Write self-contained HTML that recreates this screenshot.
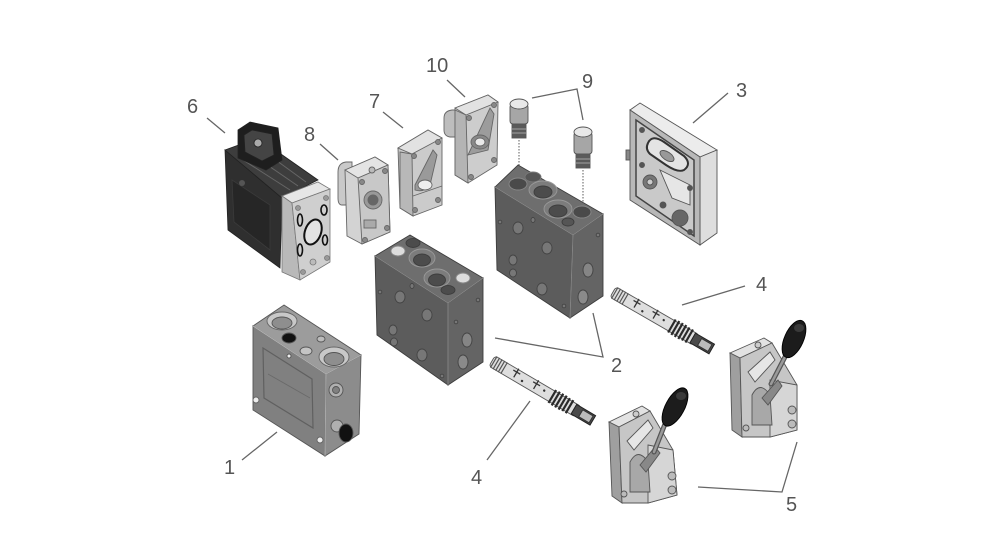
<!DOCTYPE html>
<html>
<head>
<meta charset="utf-8">
<style>
html,body{margin:0;padding:0;background:#fff;}
svg{display:block;}
text{font-family:"Liberation Sans",sans-serif;font-size:20px;fill:#555;}
</style>
</head>
<body>
<svg width="984" height="550" viewBox="0 0 984 550" xmlns="http://www.w3.org/2000/svg">
<rect width="984" height="550" fill="#fff"/>

<!-- ===== Leader lines ===== -->
<g stroke="#666" stroke-width="1.3" fill="none">
  <line x1="207" y1="118" x2="225" y2="133"/>
  <line x1="320" y1="144" x2="338" y2="160"/>
  <line x1="383" y1="112" x2="403" y2="128"/>
  <line x1="447" y1="80" x2="465" y2="97"/>
  <polyline points="532,98 577,89 583,120"/>
  <line x1="693" y1="123" x2="728" y2="93"/>
  <line x1="682" y1="305" x2="745" y2="286"/>
  <polyline points="495,338 603,357 593,313"/>
  <line x1="487" y1="460" x2="530" y2="401"/>
  <line x1="242" y1="460" x2="277" y2="432"/>
  <polyline points="698,487 782,492 797,442"/>
</g>

<!-- ===== Labels ===== -->
<text x="187" y="113">6</text>
<text x="304" y="141">8</text>
<text x="369" y="108">7</text>
<text x="426" y="72">10</text>
<text x="582" y="88">9</text>
<text x="736" y="97">3</text>
<text x="756" y="291">4</text>
<text x="611" y="372">2</text>
<text x="471" y="484">4</text>
<text x="224" y="474">1</text>
<text x="786" y="511">5</text>

<!-- ===== Part 6 solenoid ===== -->
<g stroke="#222" stroke-width="0.8">
  <polygon points="225,150 282,198 280,268 228,230" fill="#2f2f2f"/>
  <polygon points="225,150 258,138 318,180 282,198" fill="#3d3d3d"/>
  <g stroke="#666" stroke-width="1">
    <line x1="240" y1="158" x2="290" y2="190"/>
    <line x1="250" y1="153" x2="298" y2="186"/>
    <line x1="262" y1="150" x2="306" y2="182"/>
  </g>
  <polygon points="238,130 250,122 278,128 282,160 266,170 238,158" fill="#1e1e1e"/>
  <polygon points="244,135 252,130 272,134 274,155 262,161 245,152" fill="#444"/>
  <circle cx="258" cy="143" r="4" fill="#aaa"/>
  <path d="M232,180 L270,205 L270,250 L234,222 Z" fill="#262626" stroke="#3a3a3a"/>
  <circle cx="242" cy="183" r="3" fill="#555" stroke="none"/>
</g>
<g stroke="#777" stroke-width="0.8">
  <polygon points="282,196 318,182 330,189 292,203" fill="#e6e6e6"/>
  <polygon points="282,196 292,203 300,280 282,272" fill="#b9b9b9"/>
  <polygon points="292,203 330,189 330,262 300,280" fill="#cfcfcf"/>
  <ellipse cx="313" cy="232" rx="8" ry="13" transform="rotate(20 313 232)" fill="#e3e3e3" stroke="#111" stroke-width="2"/>
  <ellipse cx="300" cy="220" rx="2.5" ry="6" fill="none" stroke="#111" stroke-width="1.6"/>
  <ellipse cx="324" cy="210" rx="3" ry="5" fill="none" stroke="#111" stroke-width="1.6"/>
  <ellipse cx="325" cy="240" rx="2.5" ry="5" fill="none" stroke="#111" stroke-width="1.6"/>
  <ellipse cx="300" cy="250" rx="2.5" ry="6" fill="none" stroke="#111" stroke-width="1.6"/>
  <circle cx="298" cy="208" r="2.5" fill="#999"/>
  <circle cx="326" cy="198" r="2.5" fill="#999"/>
  <circle cx="303" cy="272" r="2.5" fill="#999"/>
  <circle cx="327" cy="258" r="2.5" fill="#999"/>
  <circle cx="313" cy="262" r="3" fill="#bbb"/>
</g>

<!-- ===== Part 8 ===== -->
<g stroke="#666" stroke-width="0.9">
  <path d="M338,172 Q338,163 346,162 L352,162 L352,205 L342,205 Q338,205 338,198 Z" fill="#c9c9c9"/>
  <polygon points="345,170 375,157 388,165 390,232 362,244 347,236" fill="#d3d3d3"/>
  <polygon points="345,170 375,157 388,165 358,178" fill="#e4e4e4"/>
  <polygon points="358,178 388,165 390,232 362,244" fill="#c8c8c8"/>
  <circle cx="373" cy="200" r="9" fill="#999"/>
  <circle cx="373" cy="200" r="5" fill="#666"/>
  <rect x="364" y="220" width="12" height="8" fill="#aaa"/>
  <circle cx="362" cy="182" r="2.5" fill="#888"/>
  <circle cx="385" cy="171" r="2.5" fill="#888"/>
  <circle cx="365" cy="240" r="2.5" fill="#888"/>
  <circle cx="387" cy="228" r="2.5" fill="#888"/>
  <circle cx="372" cy="170" r="3" fill="#bbb"/>
</g>

<!-- ===== Part 7 ===== -->
<g stroke="#666" stroke-width="0.9">
  <polygon points="398,148 428,130 442,138 442,205 413,216 400,208" fill="#cbcbcb"/>
  <polygon points="398,148 428,130 442,138 412,154" fill="#e2e2e2"/>
  <polygon points="400,152 412,154 413,216 400,208" fill="#b8b8b8"/>
  <path d="M415,185 L433,150 L437,155 L430,185 Q424,193 415,190 Z" fill="#9a9a9a"/>
  <ellipse cx="425" cy="185" rx="7" ry="5" fill="#eee"/>
  <line x1="413" y1="196" x2="442" y2="186"/>
  <circle cx="414" cy="156" r="2.5" fill="#888"/>
  <circle cx="438" cy="142" r="2.5" fill="#888"/>
  <circle cx="415" cy="210" r="2.5" fill="#888"/>
  <circle cx="438" cy="200" r="2.5" fill="#888"/>
</g>

<!-- ===== Part 10 ===== -->
<g stroke="#666" stroke-width="0.9">
  <path d="M444,118 Q444,111 452,110 L460,110 L460,137 L450,137 Q444,136 444,130 Z" fill="#bdbdbd"/>
  <polygon points="455,108 488,95 498,102 497,165 468,183 455,175" fill="#cdcdcd"/>
  <polygon points="455,108 488,95 498,102 466,115" fill="#e2e2e2"/>
  <polygon points="455,110 466,115 468,183 455,175" fill="#b4b4b4"/>
  <path d="M468,155 L490,108 L494,114 L488,150 Z" fill="#9c9c9c"/>
  <ellipse cx="480" cy="142" rx="9" ry="7" fill="#888"/>
  <ellipse cx="480" cy="142" rx="5" ry="4" fill="#e9e9e9"/>
  <circle cx="469" cy="118" r="2.5" fill="#888"/>
  <circle cx="494" cy="105" r="2.5" fill="#888"/>
  <circle cx="471" cy="177" r="2.5" fill="#888"/>
  <circle cx="494" cy="160" r="2.5" fill="#888"/>
</g>

<!-- ===== Part 9 cartridges ===== -->
<g stroke="#555" stroke-width="0.9">
  <rect x="510" y="104" width="18" height="20" rx="3" fill="#a6a6a6"/>
  <ellipse cx="519" cy="104" rx="9" ry="5" fill="#e8e8e8"/>
  <rect x="512" y="124" width="14" height="14" fill="#5a5a5a"/>
  <line x1="512" y1="129" x2="526" y2="129" stroke="#aaa"/>
  <line x1="512" y1="133" x2="526" y2="133" stroke="#aaa"/>
  <rect x="574" y="132" width="18" height="22" rx="3" fill="#a6a6a6"/>
  <ellipse cx="583" cy="132" rx="9" ry="5" fill="#e8e8e8"/>
  <rect x="576" y="154" width="14" height="14" fill="#5a5a5a"/>
  <line x1="576" y1="159" x2="590" y2="159" stroke="#aaa"/>
  <line x1="576" y1="163" x2="590" y2="163" stroke="#aaa"/>
</g>
<g stroke="#777" stroke-width="1.2" stroke-dasharray="1.5 1.5">
  <line x1="519" y1="140" x2="519" y2="180"/>
  <line x1="583" y1="170" x2="583" y2="208"/>
</g>

<!-- ===== Part 3 end plate ===== -->
<g stroke="#555" stroke-width="0.9">
  <polygon points="630,110 640,103 717,150 700,157" fill="#ececec"/>
  <polygon points="700,157 717,150 717,233 700,245" fill="#dedede"/>
  <polygon points="630,110 700,157 700,245 630,200" fill="#b8b8b8"/>
  <polygon points="636,120 694,160 694,236 636,196" fill="#c9c9c9" stroke="#444" stroke-width="1.5"/>
  <path d="M648,143 Q652,134 664,142 L684,156 Q692,164 684,170 Q678,173 666,165 L650,154 Q645,149 648,143 Z" fill="#e4e4e4" stroke="#333" stroke-width="2"/>
  <ellipse cx="667" cy="156" rx="8" ry="4" transform="rotate(34 667 156)" fill="#999"/>
  <circle cx="650" cy="182" r="7" fill="#777"/>
  <circle cx="650" cy="182" r="3" fill="#ccc"/>
  <circle cx="680" cy="218" r="8" fill="#666"/>
  <polygon points="660,170 690,185 690,205 672,198" fill="#e6e6e6" stroke="#555"/>
  <circle cx="642" cy="130" r="2.5" fill="#555"/>
  <circle cx="690" cy="188" r="2.5" fill="#555"/>
  <circle cx="642" cy="165" r="2.5" fill="#555"/>
  <circle cx="663" cy="205" r="3" fill="#555"/>
  <circle cx="690" cy="232" r="2.5" fill="#555"/>
  <rect x="626" y="150" width="4" height="10" fill="#888"/>
</g>

<!-- ===== Part 2 upper block ===== -->
<g stroke="#3d3d3d" stroke-width="0.9">
  <polygon points="495,187 573,235 570,318 497,270" fill="#5c5c5c"/>
  <polygon points="573,235 603,214 603,296 570,318" fill="#646464"/>
  <polygon points="518,165 603,214 573,235 495,187" fill="#6e6e6e"/>
  <polyline points="495,187 573,235 603,214" fill="none" stroke="#8a8a8a"/>
  <line x1="573" y1="235" x2="570" y2="318" stroke="#8a8a8a"/>
  <ellipse cx="518" cy="184" rx="9" ry="6" fill="#4a4a4a" stroke="#888"/>
  <ellipse cx="533" cy="177" rx="8" ry="5" fill="#555" stroke="#777"/>
  <ellipse cx="543" cy="190" rx="14" ry="9" fill="#7c7c7c" stroke="#999"/>
  <ellipse cx="543" cy="192" rx="9" ry="6" fill="#4c4c4c"/>
  <ellipse cx="558" cy="209" rx="14" ry="9" fill="#7c7c7c" stroke="#999"/>
  <ellipse cx="558" cy="211" rx="9" ry="6" fill="#4c4c4c"/>
  <ellipse cx="582" cy="212" rx="9" ry="6" fill="#4a4a4a" stroke="#888"/>
  <ellipse cx="568" cy="222" rx="6" ry="4" fill="#555"/>
  <g fill="#777" stroke="#444">
    <ellipse cx="518" cy="228" rx="5" ry="6"/>
    <ellipse cx="547" cy="248" rx="5" ry="6"/>
    <ellipse cx="513" cy="260" rx="4" ry="5"/>
    <ellipse cx="513" cy="273" rx="3.5" ry="4"/>
    <ellipse cx="542" cy="289" rx="5" ry="6"/>
    <ellipse cx="533" cy="220" rx="2" ry="2.5"/>
    <ellipse cx="588" cy="270" rx="5" ry="7" fill="#858585"/>
    <ellipse cx="583" cy="297" rx="5" ry="7" fill="#8a8a8a"/>
    <circle cx="500" cy="222" r="1.8"/>
    <circle cx="564" cy="306" r="1.8"/>
    <circle cx="598" cy="235" r="1.8"/>
  </g>
</g>

<!-- ===== Part 2 lower block ===== -->
<g stroke="#3d3d3d" stroke-width="0.9">
  <polygon points="375,256 448,303 448,385 377,335" fill="#5c5c5c"/>
  <polygon points="448,303 483,278 483,362 448,385" fill="#646464"/>
  <polygon points="410,235 483,278 448,303 375,256" fill="#6e6e6e"/>
  <polyline points="375,256 448,303 483,278" fill="none" stroke="#8a8a8a"/>
  <line x1="448" y1="303" x2="448" y2="385" stroke="#8a8a8a"/>
  <ellipse cx="398" cy="251" rx="7" ry="5" fill="#ddd" stroke="#888"/>
  <ellipse cx="413" cy="243" rx="7" ry="4.5" fill="#4c4c4c"/>
  <ellipse cx="422" cy="258" rx="13" ry="9" fill="#7c7c7c" stroke="#999"/>
  <ellipse cx="422" cy="260" rx="8.5" ry="6" fill="#4c4c4c"/>
  <ellipse cx="437" cy="278" rx="13" ry="9" fill="#7c7c7c" stroke="#999"/>
  <ellipse cx="437" cy="280" rx="8.5" ry="6" fill="#4c4c4c"/>
  <ellipse cx="463" cy="278" rx="7" ry="5" fill="#ddd" stroke="#888"/>
  <ellipse cx="448" cy="290" rx="7" ry="4.5" fill="#4c4c4c"/>
  <g fill="#777" stroke="#444">
    <ellipse cx="400" cy="297" rx="5" ry="6"/>
    <ellipse cx="427" cy="315" rx="5" ry="6"/>
    <ellipse cx="393" cy="330" rx="4" ry="5"/>
    <ellipse cx="394" cy="342" rx="3.5" ry="4"/>
    <ellipse cx="422" cy="355" rx="5" ry="6"/>
    <ellipse cx="412" cy="286" rx="2" ry="2.5"/>
    <ellipse cx="467" cy="340" rx="5" ry="7" fill="#858585"/>
    <ellipse cx="463" cy="362" rx="5" ry="7" fill="#8a8a8a"/>
    <circle cx="380" cy="292" r="1.8"/>
    <circle cx="442" cy="376" r="1.8"/>
    <circle cx="478" cy="300" r="1.8"/>
    <circle cx="456" cy="322" r="1.8"/>
  </g>
</g>

<!-- ===== Part 1 inlet block ===== -->
<g stroke="#555" stroke-width="0.9">
  <polygon points="253,326 326,374 325,456 253,410" fill="#808080"/>
  <polygon points="326,374 361,355 359,434 325,456" fill="#8c8c8c"/>
  <polygon points="284,305 361,355 326,374 253,326" fill="#9c9c9c"/>
  <polyline points="253,326 326,374 361,355" fill="none" stroke="#b5b5b5"/>
  <line x1="326" y1="374" x2="325" y2="456" stroke="#b0b0b0"/>
  <ellipse cx="282" cy="321" rx="15" ry="9" fill="#c8c8c8" stroke="#666"/>
  <ellipse cx="282" cy="323" rx="10" ry="6" fill="#8e8e8e"/>
  <ellipse cx="289" cy="338" rx="7" ry="5" fill="#111"/>
  <ellipse cx="321" cy="339" rx="4" ry="3" fill="#bbb"/>
  <ellipse cx="306" cy="351" rx="6" ry="4" fill="#c4c4c4"/>
  <ellipse cx="334" cy="357" rx="15" ry="10" fill="#c8c8c8" stroke="#666"/>
  <ellipse cx="334" cy="359" rx="10" ry="6.5" fill="#8e8e8e"/>
  <polygon points="263,348 312,379 313,428 264,398" fill="none" stroke="#606060" stroke-width="1.2"/>
  <line x1="268" y1="374" x2="310" y2="398" stroke="#6a6a6a"/>
  <circle cx="256" cy="400" r="3" fill="#eee" stroke="#666"/>
  <circle cx="320" cy="440" r="3" fill="#eee" stroke="#666"/>
  <circle cx="289" cy="356" r="2" fill="#eee"/>
  <circle cx="336" cy="390" r="7" fill="#b0b0b0"/>
  <circle cx="336" cy="390" r="3.5" fill="#808080"/>
  <circle cx="337" cy="426" r="6" fill="#b0b0b0"/>
  <ellipse cx="346" cy="433" rx="7" ry="9" fill="#111"/>
</g>

<!-- ===== Spools (part 4) ===== -->
<g transform="translate(613,292) rotate(30)">
  <rect x="0" y="-6" width="96" height="12" rx="3" fill="#dedede" stroke="#555" stroke-width="0.9"/>
  <g stroke="#555" stroke-width="1.2">
    <line x1="2" y1="-6.5" x2="2" y2="6.5"/><line x1="5" y1="-6.5" x2="5" y2="6.5"/>
    <line x1="8" y1="-6.5" x2="8" y2="6.5"/><line x1="11" y1="-6.5" x2="11" y2="6.5"/>
    <line x1="14" y1="-6.5" x2="14" y2="6.5"/>
  </g>
  <g stroke="#333" stroke-width="1.3" fill="none">
    <path d="M26,-7 L26,-3 M22,-3 L30,-3 M26,-3 L26,3"/>
    <path d="M48,-7 L48,-3 M44,-3 L52,-3 M48,-3 L48,3"/>
  </g>
  <circle cx="35" cy="2" r="1.2" fill="#333"/>
  <circle cx="58" cy="-1" r="1.2" fill="#333"/>
  <g stroke="#2a2a2a" stroke-width="2.2">
    <line x1="68" y1="-7.5" x2="68" y2="7.5"/><line x1="72" y1="-8" x2="72" y2="8"/>
    <line x1="76" y1="-8" x2="76" y2="8"/><line x1="80" y1="-8" x2="80" y2="8"/>
    <line x1="84" y1="-7.5" x2="84" y2="7.5"/><line x1="88" y1="-7.5" x2="88" y2="7.5"/>
  </g>
  <rect x="92" y="-5.5" width="22" height="11" fill="#4a4a4a" stroke="#222"/>
  <rect x="100" y="-4" width="12" height="8" fill="#bbb" stroke="#333"/>
</g>
<g transform="translate(492,361) rotate(30.5)">
  <rect x="0" y="-6" width="100" height="12" rx="3" fill="#dedede" stroke="#555" stroke-width="0.9"/>
  <g stroke="#555" stroke-width="1.2">
    <line x1="2" y1="-6.5" x2="2" y2="6.5"/><line x1="5" y1="-6.5" x2="5" y2="6.5"/>
    <line x1="8" y1="-6.5" x2="8" y2="6.5"/><line x1="11" y1="-6.5" x2="11" y2="6.5"/>
    <line x1="14" y1="-6.5" x2="14" y2="6.5"/>
  </g>
  <g stroke="#333" stroke-width="1.3" fill="none">
    <path d="M27,-7 L27,-3 M23,-3 L31,-3 M27,-3 L27,3"/>
    <path d="M50,-7 L50,-3 M46,-3 L54,-3 M50,-3 L50,3"/>
  </g>
  <circle cx="36" cy="2" r="1.2" fill="#333"/>
  <circle cx="60" cy="-1" r="1.2" fill="#333"/>
  <g stroke="#2a2a2a" stroke-width="2.2">
    <line x1="70" y1="-7.5" x2="70" y2="7.5"/><line x1="74" y1="-8" x2="74" y2="8"/>
    <line x1="78" y1="-8" x2="78" y2="8"/><line x1="82" y1="-8" x2="82" y2="8"/>
    <line x1="86" y1="-7.5" x2="86" y2="7.5"/><line x1="90" y1="-7.5" x2="90" y2="7.5"/>
  </g>
  <rect x="95" y="-5.5" width="22" height="11" fill="#4a4a4a" stroke="#222"/>
  <rect x="103" y="-4" width="12" height="8" fill="#bbb" stroke="#333"/>
</g>

<!-- ===== Levers (part 5) upper ===== -->
<g stroke="#555" stroke-width="0.9">
  <polygon points="730,353 764,338 772,343 740,358" fill="#e2e2e2"/>
  <polygon points="730,353 740,358 742,437 732,430" fill="#9f9f9f"/>
  <polygon points="740,358 772,343 797,385 797,430 770,437 742,437" fill="#c6c6c6"/>
  <polygon points="770,380 797,385 797,430 770,437" fill="#d6d6d6"/>
  <path d="M748,372 L770,352 L775,360 L755,382 Z" fill="#e6e6e6"/>
  <path d="M752,395 Q760,380 770,395 L772,425 L752,425 Z" fill="#a8a8a8"/>
  <path d="M762,398 L778,380 L782,386 L768,405 Z" fill="#888"/>
  <circle cx="792" cy="410" r="4" fill="#bbb"/>
  <circle cx="792" cy="424" r="4" fill="#bbb"/>
  <circle cx="746" cy="428" r="3" fill="#bbb"/>
  <circle cx="758" cy="345" r="3" fill="#ccc"/>
  <line x1="771" y1="384" x2="786" y2="355" stroke="#555" stroke-width="5" stroke-linecap="round"/>
  <line x1="771" y1="384" x2="786" y2="355" stroke="#9a9a9a" stroke-width="2.5" stroke-linecap="round"/>
  <ellipse cx="794" cy="339" rx="9.5" ry="20" transform="rotate(24 794 339)" fill="#1c1c1c" stroke="#000"/>
  <ellipse cx="799" cy="328" rx="5" ry="4" fill="#3a3a3a" stroke="none"/>
</g>

<!-- ===== Levers (part 5) lower ===== -->
<g stroke="#555" stroke-width="0.9">
  <polygon points="609,422 642,406 650,411 619,427" fill="#e2e2e2"/>
  <polygon points="609,422 619,427 622,503 612,496" fill="#9f9f9f"/>
  <polygon points="619,427 650,411 673,450 677,495 648,503 622,503" fill="#c6c6c6"/>
  <polygon points="648,445 673,450 677,495 648,503" fill="#d6d6d6"/>
  <path d="M627,441 L648,420 L653,428 L634,450 Z" fill="#e6e6e6"/>
  <path d="M630,462 Q638,447 648,462 L650,492 L630,492 Z" fill="#a8a8a8"/>
  <path d="M640,465 L655,447 L660,453 L646,472 Z" fill="#888"/>
  <circle cx="672" cy="476" r="4" fill="#bbb"/>
  <circle cx="672" cy="490" r="4" fill="#bbb"/>
  <circle cx="624" cy="494" r="3" fill="#bbb"/>
  <circle cx="636" cy="414" r="3" fill="#ccc"/>
  <line x1="654" y1="452" x2="665" y2="424" stroke="#555" stroke-width="5" stroke-linecap="round"/>
  <line x1="654" y1="452" x2="665" y2="424" stroke="#9a9a9a" stroke-width="2.5" stroke-linecap="round"/>
  <ellipse cx="675" cy="407" rx="9.5" ry="21" transform="rotate(28 675 407)" fill="#1c1c1c" stroke="#000"/>
  <ellipse cx="681" cy="396" rx="5" ry="4" fill="#3a3a3a" stroke="none"/>
</g>

</svg>
</body>
</html>
